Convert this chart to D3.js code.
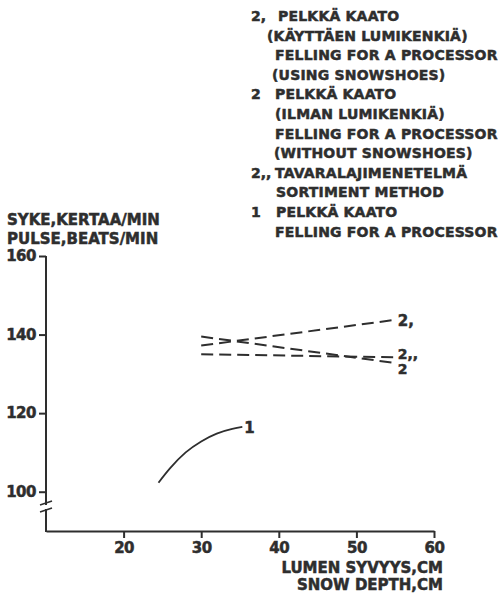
<!DOCTYPE html>
<html>
  <head>
    <style>
      body {
        margin: 0;
        background: #fff;
        font-family: "DejaVu Sans", sans-serif;
        font-weight: bold;
      }
    </style>
    <script src="https://d3js.org/d3.v7.min.js"></script>
    <title>Pulse vs snow depth</title>
  </head>

  <body>
    <svg id="chart" width="503" height="593"></svg>

    <script>
      // curve 1: felling for a processor
      var depth1 = [24.5, 26, 28, 30, 32, 34, 35.3];
      var pulse1 = [102.3, 106, 110, 112.8, 114.8, 116, 116.5];
      // dashed lines (start and end at 30 / 55 cm)
      var depthDash = [30, 55.2];
      var pulse2 = [139.5, 132.7]; // 2  without snowshoes
      var pulse2a = [137.2, 143.8]; // 2, using snowshoes
      var pulse2b = [135, 134.2]; // 2,, sortiment method

      var xTicks = [20, 30, 40, 50, 60];
      var yTicks = [100, 120, 140, 160];

      var legendMarks = ["2,", "", "", "", "2", "", "", "", "2,,", "", "1", ""];
      var legendLines = [
        "PELKKÄ KAATO",
        "(KÄYTTÄEN LUMIKENKIÄ)",
        "FELLING FOR A PROCESSOR",
        "(USING SNOWSHOES)",
        "PELKKÄ KAATO",
        "(ILMAN LUMIKENKIÄ)",
        "FELLING FOR A PROCESSOR",
        "(WITHOUT SNOWSHOES)",
        "TAVARALAJIMENETELMÄ",
        "SORTIMENT METHOD",
        "PELKKÄ KAATO",
        "FELLING FOR A PROCESSOR",
      ];
      // left edge of each legend line (the scan is not quite aligned)
      var legendX = [278, 267, 275, 272, 275, 275, 275, 274, 275, 276, 276, 275];

      var ink = "#2e2e2e";
      var svg = d3.select("#chart");

      var x = d3.scaleLinear().domain([10, 60]).range([46, 434]);
      var y = d3.scaleLinear().domain([90, 160]).range([531, 256]);

      // x axis
      var xAxis = svg
        .append("g")
        .attr("transform", "translate(0," + y(90) + ")")
        .call(d3.axisBottom(x).tickValues(xTicks).tickSize(7).tickSizeOuter(0).tickPadding(4));

      // y axis, ticks only - the line is drawn by hand with a break
      var yAxis = svg
        .append("g")
        .attr("transform", "translate(" + x(10) + ",0)")
        .call(d3.axisLeft(y).tickValues(yTicks).tickSize(7).tickPadding(3));
      yAxis.select(".domain").remove();

      svg.selectAll(".tick line").attr("stroke", ink).attr("stroke-width", 2);
      xAxis.select(".domain").attr("stroke", ink).attr("stroke-width", 2);
      svg
        .selectAll(".tick text")
        .style("font-family", "DejaVu Sans")
        .style("font-weight", "bold")
        .style("font-size", "15px")
        .style("letter-spacing", "-0.5px")
        .attr("fill", ink)
        .attr("stroke", ink)
        .attr("stroke-width", 0.5);

      var breakTop = 503;
      var breakBot = 510;
      svg
        .append("line")
        .attr("x1", x(10)).attr("x2", x(10))
        .attr("y1", y(160)).attr("y2", breakTop + 2)
        .attr("stroke", ink).attr("stroke-width", 2);
      svg
        .append("line")
        .attr("x1", x(10)).attr("x2", x(10))
        .attr("y1", breakBot - 1).attr("y2", y(90) + 1)
        .attr("stroke", ink).attr("stroke-width", 2);
      [breakTop, breakBot].forEach(function (b) {
        svg
          .append("line")
          .attr("x1", x(10) - 6).attr("y1", b + 2)
          .attr("x2", x(10) + 6).attr("y2", b - 2)
          .attr("stroke", ink).attr("stroke-width", 1.6);
      });

      // series
      var line = d3
        .line()
        .x((d) => x(d[0]))
        .y((d) => y(d[1]));

      svg
        .append("path")
        .attr("d", line.curve(d3.curveNatural)(d3.zip(depth1, pulse1)))
        .attr("fill", "none")
        .attr("stroke", ink)
        .attr("stroke-width", 1.8);

      line.curve(d3.curveLinear);
      [pulse2, pulse2a, pulse2b].forEach(function (p) {
        svg
          .append("path")
          .attr("d", line(d3.zip(depthDash, p)))
          .attr("fill", "none")
          .attr("stroke", ink)
          .attr("stroke-width", 2)
          .attr("stroke-dasharray", "12,6");
      });

      function label(t, px, py, anchor, size, spacing) {
        return svg
          .append("text")
          .attr("x", px)
          .attr("y", py)
          .attr("text-anchor", anchor || "start")
          .attr("dominant-baseline", "central")
          .style("font-size", (size || 15) + "px")
          .style("letter-spacing", (spacing || 0) + "px")
          .attr("fill", ink)
          .attr("stroke", ink)
          .attr("stroke-width", 0.5)
          .text(t);
      }

      // line end labels
      var endX = x(depthDash[1]) + 1;
      label("2,", endX, y(pulse2a[1]) + 1, "start", 15);
      label("2,,", endX, y(pulse2b[1]) - 3, "start", 14);
      label("2", endX, y(pulse2[1]) + 6, "start", 14);
      label("1", x(depth1[depth1.length - 1]) + 2, y(pulse1[pulse1.length - 1]) + 1, "start", 15);

      // axis titles
      label("SYKE,KERTAA/MIN", 7, 220, "start", 15);
      label("PULSE,BEATS/MIN", 7, 239, "start", 15);
      label("LUMEN SYVYYS,CM", 443, 568, "end", 15);
      label("SNOW DEPTH,CM", 443, 585, "end", 15);

      // legend
      legendLines.forEach(function (t, i) {
        var ly = 16 + i * 19.6;
        if (legendMarks[i]) label(legendMarks[i], 251, ly, "start", 14);
        label(t, legendX[i], ly, "start", 14, 0.2);
      });
    </script>
  </body>
</html>
